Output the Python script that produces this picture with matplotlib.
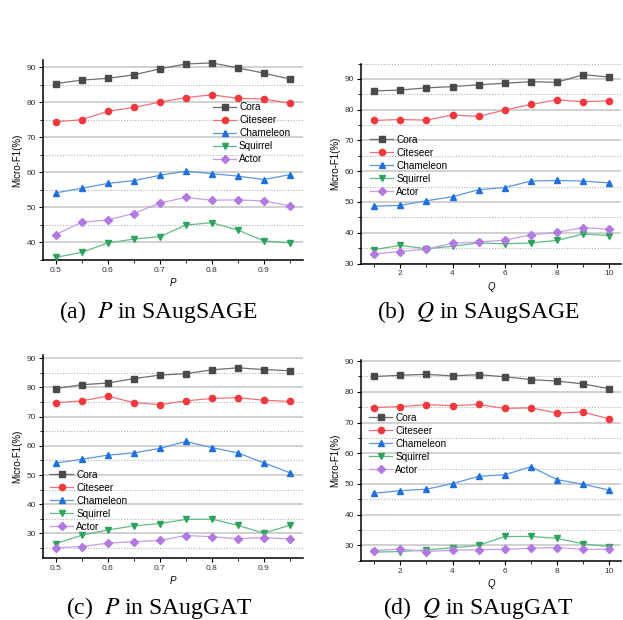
import matplotlib as mpl
mpl.use('Agg')
import matplotlib.pyplot as plt
from matplotlib.ticker import MultipleLocator

plt.rcParams['font.family'] = ['Liberation Sans', 'DejaVu Sans']
plt.rcParams['mathtext.fontset'] = 'stix'

# ================== DATA ================== #
names = ['Cora', 'Citeseer', 'Chameleon', 'Squirrel', 'Actor']
p_vals = [0.5, 0.55, 0.6, 0.65, 0.7, 0.75, 0.8, 0.85, 0.9, 0.95]
q_vals = [1, 2, 3, 4, 5, 6, 7, 8, 9, 10]

# (a) P in SAugSAGE
sage_p = {
    'Cora':      [85.3, 86.3, 86.8, 87.8, 89.5, 90.9, 91.2, 89.8, 88.3, 86.6],
    'Citeseer':  [74.4, 75.0, 77.4, 78.5, 80.0, 81.3, 82.1, 81.1, 80.9, 79.7],
    'Chameleon': [54.1, 55.4, 56.8, 57.6, 59.1, 60.3, 59.6, 58.9, 57.9, 59.3],
    'Squirrel':  [35.7, 37.1, 39.8, 40.9, 41.6, 44.9, 45.6, 43.5, 40.4, 39.8],
    'Actor':     [42.2, 45.7, 46.4, 48.2, 51.2, 52.8, 52.0, 52.1, 51.8, 50.4],
}
# (b) Q in SAugSAGE
sage_q = {
    'Cora':      [86.1, 86.4, 87.1, 87.5, 88.1, 88.6, 89.1, 88.9, 91.4, 90.6],
    'Citeseer':  [76.5, 76.8, 76.6, 78.3, 77.8, 79.9, 81.7, 83.2, 82.6, 82.9],
    'Chameleon': [48.6, 48.9, 50.4, 51.7, 54.0, 54.7, 56.8, 57.0, 56.8, 56.2],
    'Squirrel':  [34.5, 35.9, 34.8, 35.6, 36.7, 36.4, 36.7, 37.5, 39.6, 39.1],
    'Actor':     [33.1, 33.9, 34.7, 36.6, 37.0, 37.6, 39.3, 40.1, 41.7, 41.1],
}
# (c) P in SAugGAT
gat_p = {
    'Cora':      [79.6, 80.9, 81.5, 83.0, 84.2, 84.7, 86.0, 86.7, 86.1, 85.7],
    'Citeseer':  [74.7, 75.4, 77.0, 74.8, 74.1, 75.4, 76.2, 76.5, 75.6, 75.2],
    'Chameleon': [54.1, 55.4, 56.8, 57.6, 59.1, 61.5, 59.4, 57.6, 54.2, 50.8],
    'Squirrel':  [26.5, 29.4, 31.2, 32.6, 33.4, 34.8, 34.9, 32.8, 30.1, 32.8],
    'Actor':     [25.1, 25.5, 26.7, 27.2, 27.6, 29.3, 28.9, 28.2, 28.6, 28.1],
}
# (d) Q in SAugGAT
gat_q = {
    'Cora':      [85.0, 85.4, 85.7, 85.2, 85.6, 84.9, 84.0, 83.5, 82.6, 81.0],
    'Citeseer':  [74.9, 75.2, 75.8, 75.5, 75.9, 74.6, 74.8, 73.1, 73.4, 71.2],
    'Chameleon': [47.0, 47.8, 48.3, 50.1, 52.5, 53.0, 55.6, 51.4, 49.9, 48.0],
    'Squirrel':  [27.8, 28.0, 28.5, 29.2, 30.0, 32.9, 32.9, 32.3, 30.5, 29.6],
    'Actor':     [28.3, 28.8, 28.0, 28.4, 28.6, 28.7, 29.1, 29.3, 28.7, 28.7],
}

colors = {'Cora': '#4a4a4a', 'Citeseer': '#f0393f', 'Chameleon': '#1f6fdc',
          'Squirrel': '#2ea35e', 'Actor': '#b27ae0'}
line_colors = {'Cora': '#6e6e6e', 'Citeseer': '#f47074', 'Chameleon': '#5a95e6',
               'Squirrel': '#5fbb85', 'Actor': '#c79ceb'}
markers = {'Cora': 's', 'Citeseer': 'o', 'Chameleon': '^', 'Squirrel': 'v', 'Actor': 'D'}
msizes = {'Cora': 4, 'Citeseer': 4.5, 'Chameleon': 4.5, 'Squirrel': 4.5, 'Actor': 3.8}

fig = plt.figure(figsize=(6.23, 6.2), dpi=100)

# ================== PANELS ================== #
panels = [
    # rect, x, data, xlim, ylim, xmajor, xlabel, legend anchor, caption, caption pos
    ([0.0685, 0.581, 0.4175, 0.322], p_vals, sage_p, (0.475, 0.975), (35, 92), 0.1, 'P',
     (0.655, 0.635), r'(a)  $P$ in SAugSAGE', (0.255, 0.497)),
    ([0.5795, 0.575, 0.4175, 0.3225], q_vals, sage_q, (0.5, 10.45), (30, 95), 2, 'Q',
     (0.035, 0.49), r'(b)  $Q$ in SAugSAGE', (0.768, 0.497)),
    ([0.0685, 0.0995, 0.4175, 0.3275], p_vals, gat_p, (0.475, 0.975), (21.5, 91), 0.1, 'P',
     (0.03, 0.283), r'(c)  $P$ in SAugGAT', (0.255, 0.019)),
    ([0.5795, 0.0956, 0.4175, 0.3234], q_vals, gat_q, (0.5, 10.45), (25, 90.3), 2, 'Q',
     (0.032, 0.584), r'(d)  $Q$ in SAugGAT', (0.768, 0.019)),
]

for rect, xs, data, xlim, ylim, xmaj, xlab, leg_at, cap, cap_at in panels:
    ax = fig.add_axes(rect)
    for n in names:
        ax.plot(xs, data[n], color=line_colors[n], lw=0.9, zorder=3)
        ax.plot(xs, data[n], ls='none', marker=markers[n], ms=msizes[n],
                color=colors[n], zorder=4)
        # proxy for legend
        ax.plot([], [], color=line_colors[n], lw=0.9, marker=markers[n],
                ms=msizes[n], mfc=colors[n], mec=colors[n], label=n)
    ax.set_xlim(*xlim)
    ax.set_ylim(*ylim)
    ax.xaxis.set_major_locator(MultipleLocator(xmaj))
    ax.xaxis.set_minor_locator(MultipleLocator(xmaj / 2))
    ax.yaxis.set_major_locator(MultipleLocator(10))
    ax.yaxis.set_minor_locator(MultipleLocator(5))
    if xmaj < 1:
        ax.xaxis.set_major_formatter(mpl.ticker.FormatStrFormatter('%.1f'))
    ax.grid(which='major', axis='y', color='#c8c8c8', lw=1.2, zorder=0)
    ax.grid(which='minor', axis='y', color='#b0b0b0', lw=0.8, ls=(0, (1, 1.5)), zorder=0)
    ax.spines['top'].set_visible(False)
    ax.spines['right'].set_visible(False)
    for s in ['left', 'bottom']:
        ax.spines[s].set_linewidth(1.1)
    ax.tick_params(which='major', length=3, width=0.8, labelsize=6,
                   labelcolor='#333333', pad=2)
    ax.tick_params(which='minor', length=2, width=0.6)
    ax.set_ylabel('Micro-F1(%)', fontsize=7, labelpad=3)
    ax.set_xlabel(xlab, fontsize=7, style='italic', labelpad=3)
    ax.legend(loc='center left', bbox_to_anchor=leg_at, frameon=False, fontsize=7.2,
              borderpad=0, borderaxespad=0, handlelength=2.3, handletextpad=0.3,
              labelspacing=0.3)
    fig.text(cap_at[0], cap_at[1], cap, ha='center', va='center', fontsize=17,
             family='Liberation Serif')

fig.savefig('out.png', dpi=100)
